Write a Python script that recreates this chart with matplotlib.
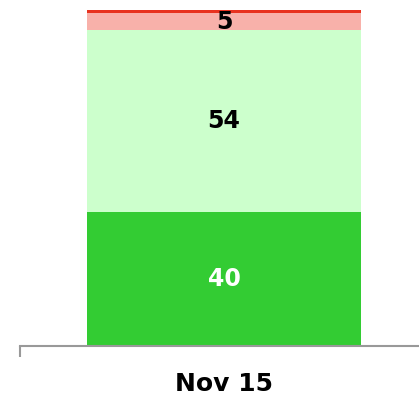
import matplotlib
matplotlib.use("Agg")
import matplotlib.pyplot as plt

categories = ['Nov 15']
segment_values = [40, 54, 5, 1]
segment_colors = ['#33cc33', '#ccffcc', '#f8b1aa', '#e8321f']
label_colors = ['white', 'black', 'black', None]

fig = plt.figure(figsize=(4.19, 4.0), dpi=100)
ax = fig.add_axes([20 / 419, 54 / 400, 399 / 419, 336 / 400])

bottom = 0
for val, col, lcol in zip(segment_values, segment_colors, label_colors):
  ax.bar(0, val, width=0.7, bottom=bottom, color=col, linewidth=0)
  if lcol is not None:
    ax.text(0, bottom + val / 2, str(val), ha='center', va='center',
            color=lcol, fontsize=17, fontweight='bold', family='DejaVu Sans')
  bottom += val

ax.set_xlim(-0.521, 0.498)
ax.set_ylim(0, 100)
for s in ['top', 'right', 'left']:
  ax.spines[s].set_visible(False)
ax.spines['bottom'].set_color('#999999')
ax.spines['bottom'].set_linewidth(1.5)
ax.set_yticks([])
ax.set_xticks([-0.521], minor=True)
ax.tick_params(axis='x', which='minor', length=8, color='#999999', width=1.5)
ax.set_xticks([0])
ax.set_xticklabels(categories, fontsize=18, fontweight='bold', family='DejaVu Sans')
ax.tick_params(axis='x', which='major', length=0, pad=19)

fig.savefig('out.png', dpi=100)
